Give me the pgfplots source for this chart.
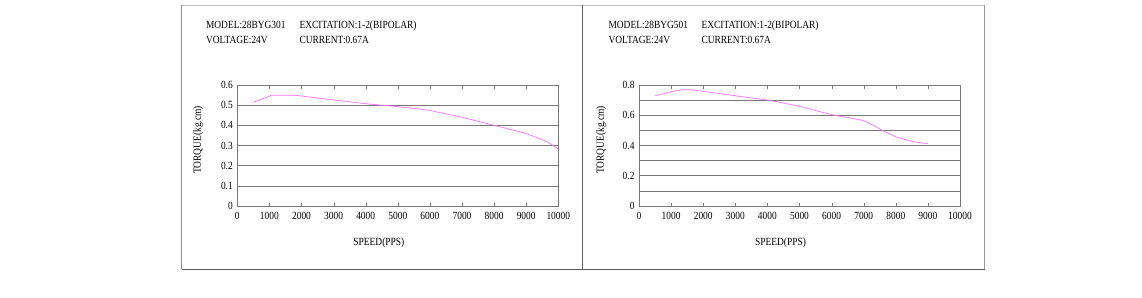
\documentclass[border=0pt]{standalone}
\usepackage{pgfplots}
\pgfplotsset{compat=1.18}
\usepackage{fontspec}
\setmainfont{Liberation Serif}[FakeStretch=0.86]
\definecolor{curve}{RGB}{255,110,255}
\definecolor{gridc}{RGB}{120,120,120}
\begin{document}
\begin{tikzpicture}[x=1bp,y=1bp]
\path[use as bounding box] (0,0) rectangle (1142,297);
% outer frame
\draw[color={rgb,255:red,190;green,190;blue,190}] (181.5,292) -- (984.5,292);
\draw[color={rgb,255:red,140;green,140;blue,140}] (181.5,292) -- (181.5,27.7);
\draw[color={rgb,255:red,100;green,100;blue,100}] (582.5,292) -- (582.5,27.7);
\draw[color={rgb,255:red,150;green,150;blue,150}] (984.5,292) -- (984.5,27.7);
\draw[color={rgb,255:red,90;green,90;blue,90}] (181.5,27.7) -- (984.5,27.7);
\pgfplotsset{
  mystyle/.style={
    scale only axis, width=321bp, height=121bp,
    xmin=0, xmax=10000, ymin=0,
    xtick={0,1000,...,10000},
    scaled x ticks=false,
    xticklabel style={/pgf/number format/1000 sep={}, font=\fontsize{11}{13}\selectfont},
    yticklabel style={font=\fontsize{11}{13}\selectfont, /pgf/number format/fixed},
    /pgf/number format/assume math mode=true,
    axis line style={gridc},
    ymajorgrids, grid style={gridc, line width=0.6pt},
    tick style={gridc},
    xtick align=inside, major tick length=3.5bp,
    ytick style={draw=none},
    xticklabel shift=3bp,
    yticklabel shift=1bp,
    xlabel={SPEED(PPS)}, ylabel={TORQUE(kg.cm)},
    label style={font=\fontsize{11}{13}\selectfont},
    xlabel style={at={(axis description cs:0.441,0)}, anchor=center, yshift=-37bp},
    clip=false,
  }
}
\node[anchor=base west, font=\fontsize{11}{13}\selectfont] at (202.5,269) {MODEL:28BYG301};
\node[anchor=base west, font=\fontsize{11}{13}\selectfont] at (296,269) {EXCITATION:1-2(BIPOLAR)};
\node[anchor=base west, font=\fontsize{11}{13}\selectfont] at (202.5,254) {VOLTAGE:24V};
\node[anchor=base west, font=\fontsize{11}{13}\selectfont] at (296,254) {CURRENT:0.67A};
\node[anchor=base west, font=\fontsize{11}{13}\selectfont] at (605,269) {MODEL:28BYG501};
\node[anchor=base west, font=\fontsize{11}{13}\selectfont] at (698,269) {EXCITATION:1-2(BIPOLAR)};
\node[anchor=base west, font=\fontsize{11}{13}\selectfont] at (605,254) {VOLTAGE:24V};
\node[anchor=base west, font=\fontsize{11}{13}\selectfont] at (698,254) {CURRENT:0.67A};
\begin{axis}[mystyle, at={(237.3bp,91bp)}, anchor=south west,
  ymax=0.6, ytick={0,0.1,...,0.6},
  yticklabels={0,0.1,0.2,0.3,0.4,0.5,0.6},
  ylabel style={at={(axis description cs:-0.122,0.545)}, anchor=center}]
\addplot[curve, line width=0.7pt] coordinates {
(500,0.514) (1070,0.549) (1800,0.549) (3000,0.526) (4000,0.507) (5000,0.493)
(6000,0.474) (7000,0.440) (8000,0.400) (9000,0.360) (9640,0.320) (10000,0.283)};
\end{axis}
\begin{axis}[mystyle, at={(639bp,91bp)}, anchor=south west,
  ymax=0.8, ytick={0,0.1,...,0.8},
  yticklabels={0,,0.2,,0.4,,0.6,,0.8},
  ylabel style={at={(axis description cs:-0.118,0.545)}, anchor=center}]
\addplot[curve, line width=0.7pt, smooth, tension=0.3] coordinates {
(500,0.729) (1270,0.767) (1680,0.767) (2000,0.758) (3000,0.729) (4000,0.700)
(5000,0.659) (6000,0.604) (7000,0.564) (7600,0.498) (8000,0.458) (8500,0.427) (9000,0.412)};
\end{axis}
\end{tikzpicture}
\end{document}
